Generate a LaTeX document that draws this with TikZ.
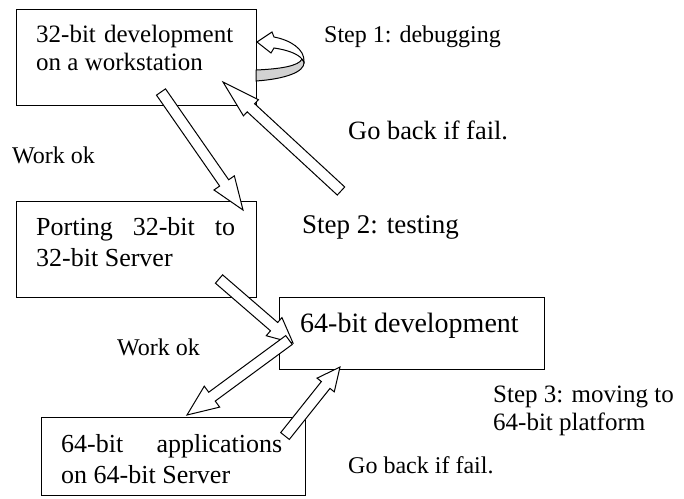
\documentclass[tikz,border=0pt]{standalone}
\usepackage{fontspec}
\setmainfont{Liberation Serif}
\usetikzlibrary{calc}

\tikzset{
  stagebox/.style={draw, line width=1.2pt, anchor=north west, inner sep=0pt},
  boxtext/.style={anchor=base west, inner sep=0pt, align=justify, font=\fontsize{26}{31}\selectfont},
  note/.style={anchor=base west, inner sep=0pt, font=\fontsize{24}{28}\selectfont},
  blockarrow/.style 2 args={draw, fill=white, line width=1pt, line join=miter,
    to path={($(\tikztostart)!5.5pt!90:(\tikztotarget)$)
      -- ($(\tikztotarget)!#2!(\tikztostart)!5.5pt!90:(\tikztotarget)$)
      -- ($(\tikztotarget)!#2!(\tikztostart)!#1!90:(\tikztotarget)$)
      -- (\tikztotarget)
      -- ($(\tikztotarget)!#2!(\tikztostart)!#1!-90:(\tikztotarget)$)
      -- ($(\tikztotarget)!#2!(\tikztostart)!5.5pt!-90:(\tikztotarget)$)
      -- ($(\tikztostart)!5.5pt!-90:(\tikztotarget)$) -- cycle}}
}

\begin{document}
\begin{tikzpicture}[x=1pt, y=-1pt]
            \useasboundingbox (0,0) rectangle (684,498);

            % boxes
            \node[stagebox, minimum width=240pt, minimum height=96pt] (dev32) at (16,9) {};
            \node[stagebox, minimum width=240pt, minimum height=96pt] (port32) at (16,201) {};
            \node[stagebox, minimum width=265pt, minimum height=72pt] (dev64) at (279,297) {};
            \node[stagebox, minimum width=264pt, minimum height=78pt] (app64) at (41,417) {};

            % texts in the boxes
            \node[boxtext, text width=197pt, font=\fontsize{25}{28}\selectfont] (dev32txt) at (36,42)
                {32-bit development\linebreak on a workstation};
            \node[boxtext, text width=199pt] (port32txt) at (36,235)
                {Porting 32-bit to\linebreak 32-bit Server};
            \node[boxtext, text width=240pt, font=\fontsize{28}{31}\selectfont] (dev64txt) at (300,332)
                {64-bit development};
            \node[boxtext, text width=221pt] (app64txt) at (61,452)
                {64-bit applications\linebreak on 64-bit Server};

            % step labels
            \node[note] (step1) at (324,42) {Step 1: debugging};
            \node[note, font=\fontsize{27}{31}\selectfont] (step2) at (302,233) {Step 2: testing};
            \node[note, text width=190pt, align=flush left, font=\fontsize{25}{28}\selectfont] (step3) at (493,402)
                {Step 3: moving to\\64-bit platform};

            % ok / fail labels
            \node[note] (ok1) at (12,163) {Work ok};
            \node[note] (ok2) at (117,355) {Work ok};
            \node[note, font=\fontsize{26.4}{30}\selectfont] (fail1) at (348,139) {Go back if fail.};
            \node[note] (fail2) at (348,473) {Go back if fail.};

            % loop for step 1
            \filldraw[fill=gray!35, line width=1pt] (256,70) .. controls (280,69) and (299,66) .. (302,59)
                -- (304,62) .. controls (305,72) and (285,79) .. (256,81) -- cycle;
            \filldraw[fill=white, line width=1pt] (304,62) .. controls (305,49) and (290,40) .. (274,37)
                -- (272,32) -- (257,42) -- (271,53) -- (274,48)
                .. controls (288,50) and (298,54) .. (302,59) -- cycle;

            % arrow ends
            \coordinate (ok1s) at (161,92);
            \coordinate (ok1e) at (243,210);
            \coordinate (fail1s) at (341,191);
            \coordinate (fail1e) at (223,82);
            \coordinate (dev64s) at (219,279);
            \coordinate (dev64e) at (293,343);
            \coordinate (ok2s) at (289,340);
            \coordinate (ok2e) at (187,415);
            \coordinate (fail2s) at (285,436);
            \coordinate (fail2e) at (340,367);

            % block arrows
            \draw[blockarrow={12.4pt}{33pt}] (ok1s) to (ok1e);
            \draw[blockarrow={11pt}{38pt}] (fail1s) to (fail1e);
            \draw[blockarrow={12pt}{25pt}] (dev64s) to (dev64e);
            \draw[blockarrow={13pt}{31pt}] (ok2s) to (ok2e);
            \draw[blockarrow={11pt}{23pt}] (fail2s) to (fail2e);

\end{tikzpicture}
\end{document}
